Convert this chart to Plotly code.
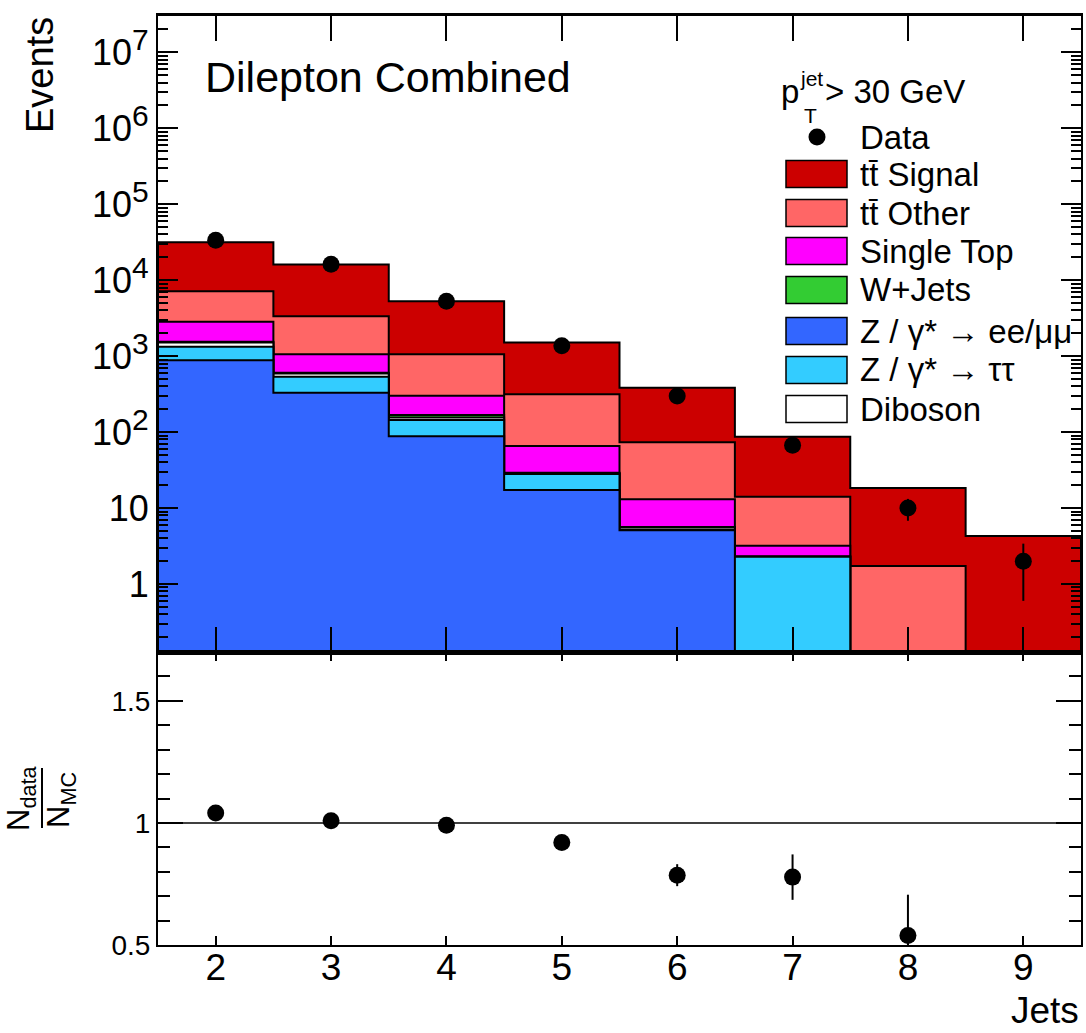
import numpy as np
import plotly.graph_objects as go

W, H = 1086, 1033
FONT = "Liberation Sans, Arial, Helvetica, sans-serif"

# ---------------- data ----------------
jets = [2, 3, 4, 5, 6, 7, 8, 9]
bin_edges = [1.5, 2.5, 3.5, 4.5, 5.5, 6.5, 7.5, 8.5, 9.5]

z_eemumu = [885, 329, 88.5, 17.3, 5.1, 0, 0, 0]
z_tautau = [440, 206, 55.5, 10.7, 0.1, 2.29, 0, 0]
diboson = [190, 55, 12, 0.8, 0.35, 0.02, 0, 0]
w_jets = [30, 13, 12, 0.4, 0.1, 0, 0, 0]
single_top = [1285, 459, 132, 36.3, 7.4, 0.87, 0, 0]
ttbar_other = [4330, 2298, 762, 250.5, 60.7, 10.9, 1.73, 0]
ttbar_signal = [24440, 12740, 4228, 1199, 309, 72.8, 16.6, 4.3]

data = [33600, 16200, 5290, 1368, 298, 67, 10, 2]
data_err = [183, 127, 73, 37, 17, 8.2, 3.2, 1.4]

ratio = [1.041, 1.009, 0.99, 0.92, 0.786, 0.778, 0.539, None]
ratio_err = [0.008, 0.009, 0.014, 0.025, 0.045, 0.093, 0.167, None]

TT = "tt\u0304"
layers = [
    ("Z / \u03b3* \u2192 ee/\u03bc\u03bc", z_eemumu, "#3366FF"),
    ("Z / \u03b3* \u2192 \u03c4\u03c4", z_tautau, "#33CCFF"),
    ("Diboson", diboson, "#FFFFFF"),
    ("W+Jets", w_jets, "#33CC33"),
    ("Single Top", single_top, "#FF00FF"),
    (TT + " Other", ttbar_other, "#FF6666"),
    (TT + " Signal", ttbar_signal, "#CC0000"),
]
legend_order = [TT + " Signal", TT + " Other", "Single Top", "W+Jets",
                "Z / \u03b3* \u2192 ee/\u03bc\u03bc", "Z / \u03b3* \u2192 \u03c4\u03c4", "Diboson"]

# ---------------- helpers ----------------
def px(x):
    return x / W


def py(y):
    return 1 - y / H


FLOOR = 1e-3
edges = np.array(bin_edges)
cum = np.cumsum(np.array([l[1] for l in layers], dtype=float), axis=0)

fig = go.Figure()

for i in range(len(layers) - 1, -1, -1):
    name, vals, color = layers[i]
    c = np.maximum(cum[i], FLOOR)
    xs = [edges[0]]
    ys = [FLOOR]
    for k in range(len(c)):
        xs += [edges[k], edges[k + 1]]
        ys += [c[k], c[k]]
    xs.append(edges[-1])
    ys.append(FLOOR)
    fig.add_trace(go.Scatter(
        x=xs, y=ys, mode="lines", fill="toself", fillcolor=color,
        line=dict(color="black", width=2), hoverinfo="skip",
        showlegend=False, xaxis="x", yaxis="y"))

fig.add_trace(go.Scatter(
    x=jets, y=data, mode="markers",
    marker=dict(color="black", size=17),
    error_y=dict(type="data", array=data_err, color="black", thickness=2, width=0),
    showlegend=False, xaxis="x", yaxis="y"))

fig.add_trace(go.Scatter(
    x=jets, y=ratio, mode="markers",
    marker=dict(color="black", size=17),
    error_y=dict(type="data", array=ratio_err, color="black", thickness=2, width=0),
    showlegend=False, xaxis="x2", yaxis="y2", cliponaxis=True))

# ---------------- axes ----------------
xdom = [px(158), px(1081)]
top_dom = [py(652), py(15.7)]
bot_dom = [py(945), py(652)]

decades = list(range(0, 8))
ymaj = [10.0 ** d for d in decades]
ytxt = ["1", "10"] + ["10<sup><span style='font-size:30px'>%d</span></sup>" % d
                      for d in decades[2:]]
yminor = [m * 10.0 ** d for d in range(-1, 8) for m in range(2, 10)]

axis_common = dict(showgrid=False, zeroline=False, showline=True, linecolor="black",
                   ticks="inside", tickcolor="black", tickwidth=2, mirror="ticks",
                   automargin=False)

fig.update_layout(
    template="none",
    width=W, height=H, autosize=False,
    margin=dict(l=0, r=0, t=0, b=0, pad=0),
    paper_bgcolor="white", plot_bgcolor="white",
    font=dict(family=FONT, color="black"),
    showlegend=False,
    xaxis=dict(domain=xdom, range=[1.5, 9.5], anchor="y", tickvals=jets,
               showticklabels=False, ticklen=25, linewidth=3, **axis_common),
    yaxis=dict(domain=top_dom, type="log", range=[-0.895, 7.482], anchor="x",
               tickvals=ymaj, ticktext=ytxt, ticklen=20, linewidth=2,
               tickfont=dict(size=36, family=FONT),
               minor=dict(tickvals=yminor, ticklen=10, ticks="inside",
                          tickcolor="black", tickwidth=2),
               **axis_common),
    xaxis2=dict(domain=xdom, range=[1.5, 9.5], anchor="y2", tickvals=jets,
                ticklen=9, linewidth=2, tickfont=dict(size=37, family=FONT),
                ticklabelstandoff=-11,
                **axis_common),
    yaxis2=dict(domain=bot_dom, range=[0.5, 1.7], anchor="x2",
                tickvals=[0.5, 1.0, 1.5], ticktext=["0.5", "1", "1.5"], ticklen=25,
                linewidth=2, tickfont=dict(size=28, family=FONT),
                minor=dict(tickvals=[0.6, 0.7, 0.8, 0.9, 1.1, 1.2, 1.3, 1.4, 1.6],
                           ticklen=12, ticks="inside", tickcolor="black", tickwidth=2),
                **axis_common),
)

shapes = []
annotations = []

shapes.append(dict(type="line", xref="x2", yref="y2", x0=1.5, x1=9.5, y0=1, y1=1,
                   line=dict(color="black", width=1.5)))

annotations.append(dict(text="Dilepton Combined", x=px(203), y=py(77), xref="paper",
                        yref="paper", xanchor="left", yanchor="middle", showarrow=False,
                        font=dict(size=43, family=FONT)))
annotations.append(dict(text="Events", x=px(40), y=py(75), xref="paper", yref="paper",
                        xanchor="center", yanchor="middle", textangle=-90,
                        showarrow=False, font=dict(size=38, family=FONT)))
annotations.append(dict(text="Jets", x=px(1081), y=py(1010), xref="paper", yref="paper",
                        xanchor="right", yanchor="middle", showarrow=False,
                        font=dict(size=37, family=FONT)))

annotations.append(dict(text="p", x=px(779), y=py(92), xref="paper", yref="paper",
                        xanchor="left", yanchor="middle", showarrow=False,
                        font=dict(size=33, family=FONT)))
annotations.append(dict(text="jet", x=px(798), y=py(79), xref="paper", yref="paper",
                        xanchor="left", yanchor="middle", showarrow=False,
                        font=dict(size=21, family=FONT)))
annotations.append(dict(text="T", x=px(802), y=py(116), xref="paper", yref="paper",
                        xanchor="left", yanchor="middle", showarrow=False,
                        font=dict(size=21, family=FONT)))
annotations.append(dict(text="> 30 GeV", x=px(823), y=py(92), xref="paper", yref="paper",
                        xanchor="left", yanchor="middle", showarrow=False,
                        font=dict(size=33, family=FONT)))

leg_y = [137, 174, 213, 251, 290, 331, 370, 409]
shapes.append(dict(type="circle", xref="paper", yref="paper",
                   x0=px(817 - 8.5), x1=px(817 + 8.5), y0=py(leg_y[0] + 8.5),
                   y1=py(leg_y[0] - 8.5), fillcolor="black", line=dict(color="black", width=0)))
annotations.append(dict(text="Data", x=px(858), y=py(leg_y[0]), xref="paper", yref="paper",
                        xanchor="left", yanchor="middle", showarrow=False,
                        font=dict(size=33, family=FONT)))
colors = {l[0]: l[2] for l in layers}
for j, name in enumerate(legend_order):
    yc = leg_y[j + 1]
    shapes.append(dict(type="rect", xref="paper", yref="paper",
                       x0=px(786), x1=px(847), y0=py(yc + 13.5), y1=py(yc - 13.5),
                       fillcolor=colors[name], line=dict(color="black", width=1.5)))
    annotations.append(dict(text=name, x=px(858), y=py(yc), xref="paper", yref="paper",
                            xanchor="left", yanchor="middle", showarrow=False,
                            font=dict(size=33, family=FONT)))

annotations.append(dict(text="N<sub>data</sub>", x=px(21), y=py(798), xref="paper",
                        yref="paper", xanchor="center", yanchor="middle", textangle=-90,
                        showarrow=False, font=dict(size=31, family=FONT)))
annotations.append(dict(text="N<sub>MC</sub>", x=px(61), y=py(800), xref="paper",
                        yref="paper", xanchor="center", yanchor="middle", textangle=-90,
                        showarrow=False, font=dict(size=31, family=FONT)))
shapes.append(dict(type="line", xref="paper", yref="paper", x0=px(42), x1=px(42),
                   y0=py(768), y1=py(828), line=dict(color="black", width=2)))

fig.update_layout(shapes=shapes, annotations=annotations)

fig.write_html("out.html")
